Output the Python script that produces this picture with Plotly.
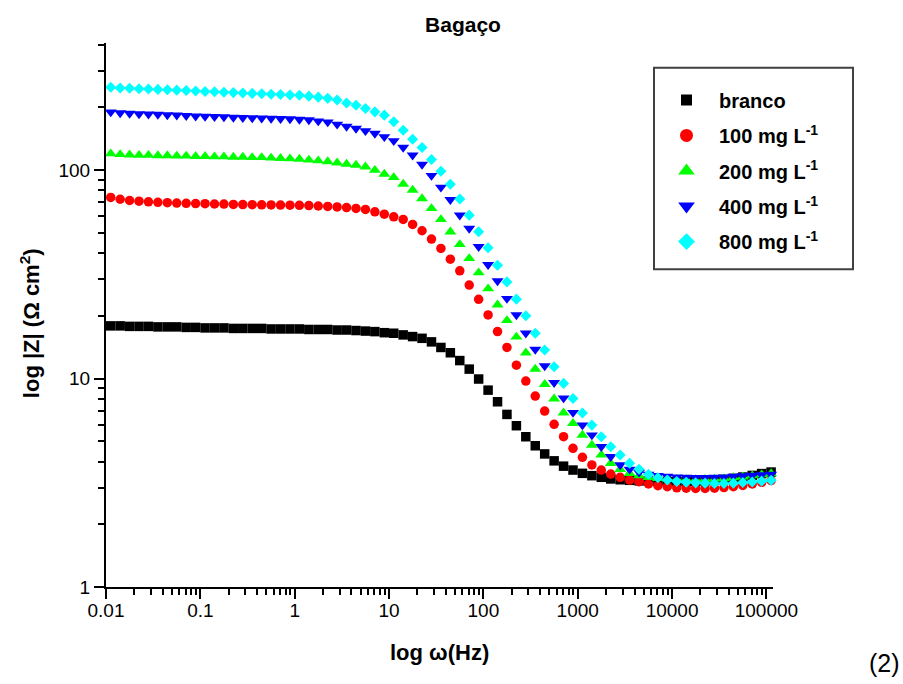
import plotly.graph_objects as go

# Frequency sweep: 10 points per decade
mantissa = [1.122, 1.413, 1.778, 2.239, 2.818, 3.548, 4.467, 5.623, 7.079, 8.913]
freq_hz = [m * 10 ** d for d in range(-2, 5) for m in mantissa] + [1.122e5]

# |Z| in ohm cm^2 for each inhibitor concentration
z_branco = [
    17.9, 17.9, 17.8, 17.8, 17.8, 17.7, 17.7, 17.7, 17.6, 17.6,
    17.5, 17.5, 17.5, 17.4, 17.4, 17.4, 17.4, 17.3, 17.3, 17.3,
    17.3, 17.2, 17.2, 17.2, 17.1, 17.1, 17.0, 16.9, 16.8, 16.6,
    16.5, 16.2, 15.9, 15.6, 15.0, 14.1, 13.3, 12.2, 11.1, 9.95,
    8.8, 7.74, 6.73, 5.94, 5.26, 4.76, 4.35, 4.03, 3.80, 3.64,
    3.51, 3.42, 3.36, 3.30, 3.27, 3.25, 3.23, 3.22, 3.21, 3.20,
    3.20, 3.20, 3.21, 3.23, 3.25, 3.28, 3.32, 3.37, 3.43, 3.50,
    3.56,
]
z_100 = [
    74.0, 72.5, 71.5, 71.0, 70.5, 70.1, 69.8, 69.5, 69.3, 69.1,
    69.0, 68.8, 68.7, 68.5, 68.4, 68.3, 68.2, 68.1, 68.0, 67.9,
    67.8, 67.6, 67.3, 67.0, 66.6, 66.1, 65.5, 64.8, 63.1, 61.5,
    59.7, 58.0, 54.9, 51.2, 46.7, 42.1, 37.4, 32.9, 28.1, 24.0,
    20.2, 16.8, 14.1, 11.6, 9.73, 8.24, 6.98, 6.03, 5.26, 4.63,
    4.19, 3.85, 3.64, 3.48, 3.36, 3.26, 3.20, 3.12, 3.06, 3.03,
    2.99, 2.98, 2.97, 2.97, 2.98, 3.00, 3.03, 3.07, 3.12, 3.18,
    3.24,
]
z_200 = [
    120, 119, 118.5, 118, 118, 117.5, 117.5, 117, 117, 116.5,
    116.5, 116, 116, 115.5, 115.5, 115, 115, 114.5, 114, 113.5,
    113, 112, 111, 110, 108.5, 107, 105.7, 103.7, 100, 95.7,
    92.2, 85.7, 80.2, 73.1, 65.5, 58.0, 50.6, 44.0, 37.7, 32.2,
    27.0, 22.6, 19.0, 15.85, 13.3, 11.1, 9.38, 8.0, 6.85, 6.10,
    5.36, 4.80, 4.30, 3.92, 3.67, 3.51, 3.42, 3.36, 3.32, 3.30,
    3.29, 3.28, 3.28, 3.29, 3.30, 3.32, 3.35, 3.38, 3.42, 3.46,
    3.50,
]
z_400 = [
    190, 188, 187, 186, 185.5, 185, 184, 183.5, 182.5, 181.5,
    181, 180.5, 180, 179, 178.5, 178, 177.5, 177, 176.5, 176,
    175, 174, 172, 170, 166, 162, 158.5, 154.4, 150, 144.5,
    138.3, 128.5, 118, 106.5, 94.2, 82.7, 72.1, 60.8, 52.5, 42.9,
    35.2, 29.4, 24.2, 20.2, 16.5, 13.8, 11.5, 9.55, 8.06, 6.87,
    5.98, 5.36, 4.71, 4.22, 3.85, 3.67, 3.55, 3.47, 3.42, 3.39,
    3.37, 3.36, 3.35, 3.35, 3.36, 3.37, 3.39, 3.41, 3.43, 3.45,
    3.47,
]
z_800 = [
    250, 248, 247, 246, 245, 244, 243, 242, 241, 239.5,
    238.5, 237.5, 236.5, 235.5, 234.5, 233.5, 232.5, 231.5, 230.5, 229.5,
    228.5, 226.5, 224, 221, 217, 210, 205, 197.6, 190.4, 183.6,
    170.6, 155.5, 140.8, 128.5, 112.5, 98.7, 85.5, 72.7, 60.8, 50.6,
    42.4, 35.0, 29.1, 24.05, 20.0, 16.5, 13.7, 11.4, 9.48, 8.03,
    6.83, 5.98, 5.26, 4.71, 4.30, 3.92, 3.67, 3.47, 3.34, 3.26,
    3.21, 3.18, 3.16, 3.15, 3.14, 3.14, 3.15, 3.17, 3.19, 3.22,
    3.25,
]

series_names = ["branco", "100 mg L<sup>-1</sup>", "200 mg L<sup>-1</sup>",
                "400 mg L<sup>-1</sup>", "800 mg L<sup>-1</sup>"]
series_values = [z_branco, z_100, z_200, z_400, z_800]
series_colors = ["#000000", "#ff0000", "#00ff00", "#0000ff", "#00ffff"]
series_symbols = ["square", "circle", "triangle-up", "triangle-down", "diamond"]
plot_sizes = [9.5, 9.5, 10.5, 10.5, 8.5]
legend_sizes = [11, 13, 14.5, 14.5, 13]

x_tick_vals = [0.01, 0.1, 1, 10, 100, 1000, 10000, 100000]
x_tick_text = ["0.01", "0.1", "1", "10", "100", "1000", "10000", "100000"]
y_tick_vals = [1, 10, 100]
y_tick_text = ["1", "10", "100"]

FONT = "Arial, Liberation Sans, sans-serif"

fig = go.Figure()
for name, vals, col, sym, ps, ls in zip(series_names, series_values, series_colors,
                                       series_symbols, plot_sizes, legend_sizes):
    fig.add_trace(go.Scatter(
        x=freq_hz, y=vals, mode="markers", name=name, legendgroup=name,
        showlegend=False, cliponaxis=False,
        marker=dict(symbol=sym, size=ps, color=col, line=dict(width=0)),
    ))
    # legend entry with larger symbol
    fig.add_trace(go.Scatter(
        x=[None], y=[None], mode="markers", name=name, legendgroup=name,
        showlegend=True,
        marker=dict(symbol=sym, size=ls, color=col, line=dict(width=0)),
    ))

minor_x = [m * 10 ** d for d in range(-2, 5) for m in range(2, 10)]
minor_y = [m * 10 ** d for d in range(0, 3) for m in range(2, 10)]
minor_y = [v for v in minor_y if v <= 400]

axis_common = dict(
    type="log", showline=True, linecolor="black", linewidth=2, mirror=False,
    showgrid=False, zeroline=False, ticks="outside", ticklen=10, tickwidth=2,
    tickcolor="black", tickmode="array",
    tickfont=dict(family=FONT, size=19, color="black"),
)

fig.update_layout(
    width=903, height=684, autosize=False,
    margin=dict(l=106, r=130, t=43, b=97),
    paper_bgcolor="white", plot_bgcolor="white",
    font=dict(family=FONT, size=19, color="black"),
    title=dict(text="Bagaço", x=(463 - 106) / 667, xref="paper", xanchor="center",
               y=1 - 25 / 684, yref="container", yanchor="middle",
               font=dict(family=FONT, size=21, weight="bold", color="black")),
    xaxis=dict(axis_common, range=[-2, 5.07], tickvals=x_tick_vals, ticktext=x_tick_text,
               ticklabelstandoff=-5,
               minor=dict(tickmode="array", tickvals=minor_x, ticks="outside", ticklen=6,
                          tickwidth=1.5, tickcolor="black", showgrid=False)),
    yaxis=dict(axis_common, range=[0, 2.61], tickvals=y_tick_vals, ticktext=y_tick_text,
               minor=dict(tickmode="array", tickvals=minor_y, ticks="outside", ticklen=6,
                          tickwidth=1.5, tickcolor="black", showgrid=False)),
    showlegend=True,
    legend=dict(x=(654 - 106) / 667, xanchor="left", y=(587 - 80.5) / 544, yanchor="top",
                bgcolor="rgba(0,0,0,0)", borderwidth=0, itemwidth=55,
                tracegroupgap=6.4, traceorder="grouped",
                font=dict(family=FONT, size=20, weight="bold", color="black")),
    shapes=[dict(type="rect", xref="paper", yref="paper",
                 x0=(654 - 106) / 667, x1=(853 - 106) / 667,
                 y0=(587 - 269.3) / 544, y1=(587 - 67.7) / 544,
                 line=dict(color="#404040", width=2), fillcolor="rgba(0,0,0,0)")],
    annotations=[
        dict(text="log |Z| (Ω cm<sup>2</sup>)", xref="paper", yref="paper",
             x=(30 - 106) / 667, y=0.485, textangle=-90, showarrow=False,
             xanchor="center", yanchor="middle",
             font=dict(family=FONT, size=22, weight="bold", color="black")),
        dict(text="log ω(Hz)", xref="paper", yref="paper",
             x=(439 - 106) / 667, y=(587 - 652) / 544, showarrow=False,
             xanchor="center", yanchor="middle",
             font=dict(family=FONT, size=22, weight="bold", color="black")),
        dict(text="(2)", xref="paper", yref="paper",
             x=(884 - 106) / 667, y=(587 - 663) / 544, showarrow=False,
             xanchor="center", yanchor="middle",
             font=dict(family=FONT, size=25, color="black")),
    ],
)

fig.write_html("out.html")
